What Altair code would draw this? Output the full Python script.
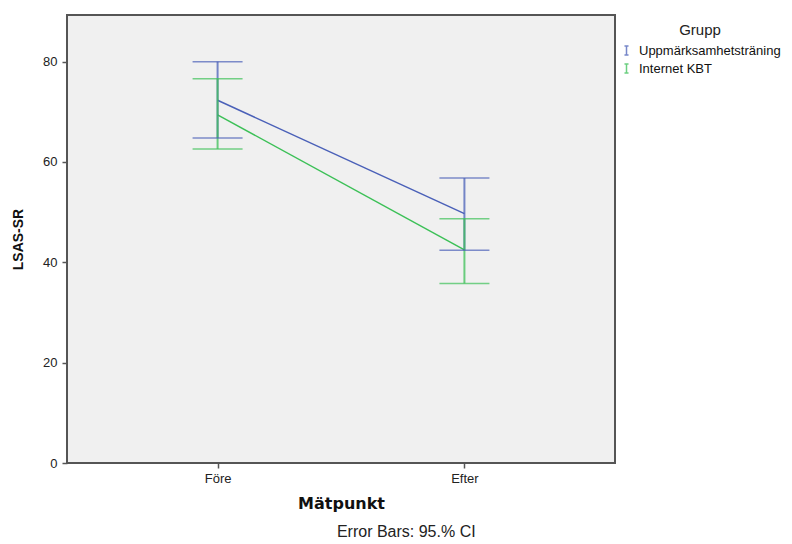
import altair as alt
import pandas as pd

phases = ["Före", "Efter"]
groups = ["Uppmärksamhetsträning", "Internet KBT"]
upp_mean = [72.3, 49.7]
upp_lower = [64.8, 42.4]
upp_upper = [80.0, 56.8]
kbt_mean = [69.4, 42.5]
kbt_lower = [62.6, 35.8]
kbt_upper = [76.6, 48.7]
colors = ["#4a60b8", "#3cc057"]
y_ticks = [0, 20, 40, 60, 80]

rows = []
for g, m, lo, hi in [(groups[0], upp_mean, upp_lower, upp_upper),
                     (groups[1], kbt_mean, kbt_lower, kbt_upper)]:
    for i, p in enumerate(phases):
        rows.append({"group": g, "phase": p, "mean": m[i], "lower": lo[i], "upper": hi[i]})
df = pd.DataFrame(rows)

x = alt.X("phase:N", sort=phases,
          scale=alt.Scale(type="point", padding=0.61),
          axis=alt.Axis(title="Mätpunkt", labelAngle=0, labelFont="Liberation Sans",
                        labelFontSize=13, labelColor="#222", labelPadding=4,
                        titleFont="DejaVu Sans", titleFontSize=16, titleFontWeight="bold",
                        titleColor="#111", titlePadding=10,
                        tickColor="#555", tickSize=5, tickWidth=1.5, domain=False))
yscale = alt.Scale(domain=[0, 89.3], nice=False, zero=True)
yaxis = alt.Axis(title="LSAS-SR", values=y_ticks, grid=False, labelFont="Liberation Sans",
                 labelFontSize=13, labelColor="#222", labelPadding=5,
                 titleFont="Liberation Sans", titleFontSize=14, titleFontWeight="bold",
                 titleColor="#111", titlePadding=17,
                 tickColor="#555", tickSize=5, tickWidth=1.5, domain=False)
color = alt.Color("group:N", sort=groups,
                  scale=alt.Scale(domain=groups, range=colors),
                  legend=alt.Legend(title="Grupp", orient="none", legendX=553, legendY=8,
                                    titleAnchor="middle", titleFont="Liberation Sans",
                                    titleFontSize=15, titleFontWeight="normal", titleColor="#222",
                                    titlePadding=6,
                                    labelFont="Liberation Sans", labelFontSize=13,
                                    labelColor="#111", labelOffset=6,
                                    symbolType="M-0.45,-1H0.45M0,-1V1M-0.45,1H0.45",
                                    symbolSize=81, symbolStrokeWidth=1.5,
                                    rowPadding=3, padding=0))

base = alt.Chart(df).encode(x=x, color=color)

line = base.mark_line(strokeWidth=1.5).encode(y=alt.Y("mean:Q", scale=yscale, axis=yaxis))
rule = base.mark_rule(strokeWidth=2, opacity=0.75).encode(y=alt.Y("lower:Q", scale=yscale, axis=yaxis), y2="upper:Q")
tick_lo = base.mark_tick(size=50, thickness=1.5).encode(y=alt.Y("lower:Q", scale=yscale, axis=yaxis))
tick_hi = base.mark_tick(size=50, thickness=1.5).encode(y=alt.Y("upper:Q", scale=yscale, axis=yaxis))

chart = alt.layer(line, rule, tick_lo, tick_hi).properties(
    width=548, height=448,
    background="white",
    padding={"left": 3, "top": 7, "right": 2, "bottom": 0},
    title=alt.TitleParams("Error Bars: 95.% CI", orient="bottom", anchor="middle",
                          frame="bounds", font="Liberation Sans", fontSize=16,
                          fontWeight="normal", color="#222", offset=13, dx=10),
).configure_view(
    fill="#f0f0f0", stroke="#555", strokeWidth=2
)

chart.save("out.html", embed_options={"renderer": "svg", "actions": False})
